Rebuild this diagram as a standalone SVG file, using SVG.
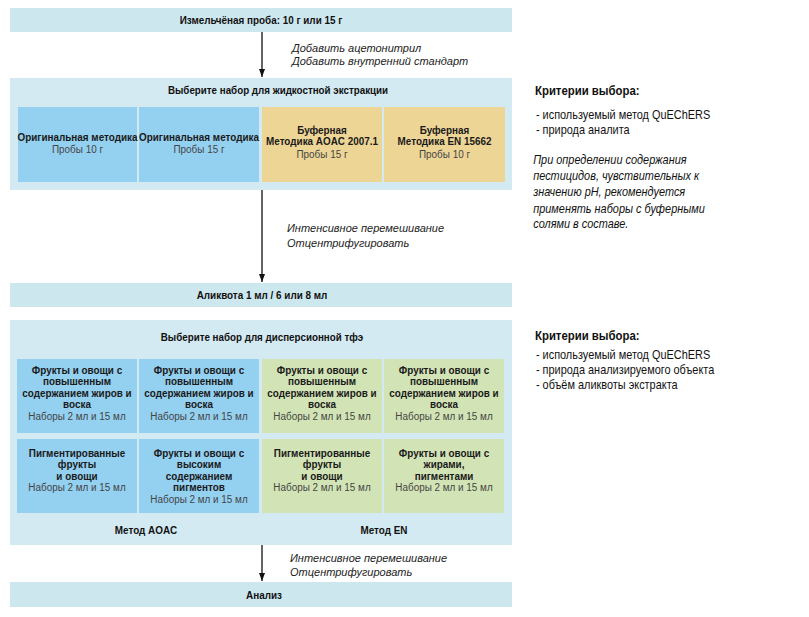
<svg xmlns="http://www.w3.org/2000/svg" width="809" height="617" viewBox="0 0 809 617">
<style>
.bar{fill:#cde7ef}
.panel{fill:#d3eaf2}
.blue{fill:#94d0f0}
.tan{fill:#edd596}
.green{fill:#d2e4b5}
text{font-family:"Liberation Sans",Arial,sans-serif;fill:#111}
.h{font-size:11px;font-weight:bold;text-anchor:middle}
.c{font-size:11px;font-weight:bold;text-anchor:middle;fill:#1a1a1a}
.s{font-size:11px;text-anchor:middle;fill:#444}
.i{font-size:11px;font-style:italic;fill:#222}
.k{font-size:12.5px;font-weight:bold}
.l{font-size:12px}
.p{font-size:12px;font-style:italic}
.arr{stroke:#111;stroke-width:1.3;fill:none;marker-end:url(#ah)}
</style>
<defs>
<marker id="ah" markerUnits="userSpaceOnUse" markerWidth="8" markerHeight="10" refX="8" refY="3" orient="auto">
<path d="M0,0 L8,3 L0,6 z" fill="#111"/>
</marker>
</defs>
<rect width="809" height="617" fill="#fff"/>

<g id="connectors">
<line class="arr" x1="262" y1="32" x2="262" y2="77"/>
<line class="arr" x1="262" y1="190" x2="262" y2="282"/>
<line class="arr" x1="262" y1="545" x2="262" y2="581"/>
<text class="i" x="292" y="52">Добавить ацетонитрил</text>
<text class="i" x="292" y="65">Добавить внутренний стандарт</text>
<text class="i" x="287" y="232">Интенсивное перемешивание</text>
<text class="i" x="287" y="247">Отцентрифугировать</text>
<text class="i" x="290" y="562">Интенсивное перемешивание</text>
<text class="i" x="290" y="576">Отцентрифугировать</text>
</g>

<g id="sample">
<rect class="bar" x="10" y="8" width="502" height="24"/>
<g transform="translate(261 0) scale(0.9 1)"><text class="h" y="24">Измельчёная проба: 10 г или 15 г</text></g>
</g>

<g id="extraction">
<rect class="panel" x="10" y="78" width="502" height="112"/>
<g transform="translate(278 0) scale(0.89 1)"><text class="h" y="94">Выберите набор для жидкостной экстракции</text></g>
<g id="ext1"><rect class="blue" x="18" y="107" width="119" height="75"/>
<g transform="translate(77.5 0) scale(0.9 1)"><text class="c" y="141">Оригинальная методика</text><text class="s" y="153">Пробы 10 г</text></g></g>
<g id="ext2"><rect class="blue" x="139" y="107" width="120" height="75"/>
<g transform="translate(199 0) scale(0.9 1)"><text class="c" y="141">Оригинальная методика</text><text class="s" y="153">Пробы 15 г</text></g></g>
<g id="ext3"><rect class="tan" x="262" y="107" width="120" height="75"/>
<g transform="translate(322 0) scale(0.9 1)"><text class="c" y="134">Буферная</text><text class="c" y="145">Методика AOAC 2007.1</text><text class="s" y="158">Пробы 15 г</text></g></g>
<g id="ext4"><rect class="tan" x="384" y="107" width="121" height="75"/>
<g transform="translate(444.5 0) scale(0.9 1)"><text class="c" y="134">Буферная</text><text class="c" y="145">Методика EN 15662</text><text class="s" y="158">Пробы 10 г</text></g></g>
</g>

<g id="aliquot">
<rect class="bar" x="10" y="283" width="502" height="24"/>
<g transform="translate(262 0) scale(0.9 1)"><text class="h" y="299">Аликвота 1 мл / 6 или 8 мл</text></g>
</g>

<g id="dspe">
<rect class="panel" x="10" y="320" width="502" height="225"/>
<g transform="translate(262 0) scale(0.89 1)"><text class="h" y="341">Выберите набор для дисперсионной тфэ</text></g>
<g id="d1"><rect class="blue" x="17" y="359" width="120" height="74"/>
<g transform="translate(77 0) scale(0.9 1)"><text class="c" y="374">Фрукты и овощи с</text><text class="c" y="385.5">повышенным</text><text class="c" y="397">содержанием жиров и</text><text class="c" y="408.5">воска</text><text class="s" y="420">Наборы 2 мл и 15 мл</text></g></g>
<g id="d2"><rect class="blue" x="139" y="359" width="120" height="74"/>
<g transform="translate(199 0) scale(0.9 1)"><text class="c" y="374">Фрукты и овощи с</text><text class="c" y="385.5">повышенным</text><text class="c" y="397">содержанием жиров и</text><text class="c" y="408.5">воска</text><text class="s" y="420">Наборы 2 мл и 15 мл</text></g></g>
<g id="d3"><rect class="green" x="262" y="359" width="120" height="74"/>
<g transform="translate(322 0) scale(0.9 1)"><text class="c" y="374">Фрукты и овощи с</text><text class="c" y="385.5">повышенным</text><text class="c" y="397">содержанием жиров и</text><text class="c" y="408.5">воска</text><text class="s" y="420">Наборы 2 мл и 15 мл</text></g></g>
<g id="d4"><rect class="green" x="384" y="359" width="120" height="74"/>
<g transform="translate(444 0) scale(0.9 1)"><text class="c" y="374">Фрукты и овощи с</text><text class="c" y="385.5">повышенным</text><text class="c" y="397">содержанием жиров и</text><text class="c" y="408.5">воска</text><text class="s" y="420">Наборы 2 мл и 15 мл</text></g></g>
<g id="d5"><rect class="blue" x="17" y="439" width="120" height="74"/>
<g transform="translate(77 0) scale(0.9 1)"><text class="c" y="457">Пигментированные</text><text class="c" y="468.5">фрукты</text><text class="c" y="480">и овощи</text><text class="s" y="491.5">Наборы 2 мл и 15 мл</text></g></g>
<g id="d6"><rect class="blue" x="139" y="439" width="120" height="74"/>
<g transform="translate(199 0) scale(0.9 1)"><text class="c" y="457">Фрукты и овощи с</text><text class="c" y="468.5">высоким</text><text class="c" y="480">содержанием</text><text class="c" y="491.5">пигментов</text><text class="s" y="503">Наборы 2 мл и 15 мл</text></g></g>
<g id="d7"><rect class="green" x="262" y="439" width="120" height="74"/>
<g transform="translate(322 0) scale(0.9 1)"><text class="c" y="457">Пигментированные</text><text class="c" y="468.5">фрукты</text><text class="c" y="480">и овощи</text><text class="s" y="491.5">Наборы 2 мл и 15 мл</text></g></g>
<g id="d8"><rect class="green" x="384" y="439" width="120" height="74"/>
<g transform="translate(444 0) scale(0.9 1)"><text class="c" y="457">Фрукты и овощи с</text><text class="c" y="468.5">жирами,</text><text class="c" y="480">пигментами</text><text class="s" y="491.5">Наборы 2 мл и 15 мл</text></g></g>
<g transform="translate(146 0) scale(0.9 1)"><text class="h" y="534">Метод AOAC</text></g>
<g transform="translate(384 0) scale(0.9 1)"><text class="h" y="534">Метод EN</text></g>
</g>

<g id="analysis">
<rect class="bar" x="10" y="582" width="502" height="25"/>
<g transform="translate(264 0) scale(0.9 1)"><text class="h" y="599">Анализ</text></g>
</g>

<g id="criteria1" transform="translate(535 0) scale(0.91 1)">
<text class="k" x="0" y="95">Критерии выбора:</text>
<text class="l" x="1" y="119">- используемый метод QuEChERS</text>
<text class="l" x="1" y="134">- природа аналита</text>
<text class="p" x="-2" y="164">При определении содержания</text>
<text class="p" x="-2" y="180">пестицидов, чувствительных к</text>
<text class="p" x="-2" y="196">значению pH, рекомендуется</text>
<text class="p" x="-2" y="213">применять наборы с буферными</text>
<text class="p" x="-2" y="228">солями в составе.</text>
</g>

<g id="criteria2" transform="translate(535 0) scale(0.91 1)">
<text class="k" x="0" y="340">Критерии выбора:</text>
<text class="l" x="1" y="359">- используемый метод QuEChERS</text>
<text class="l" x="1" y="374">- природа анализируемого объекта</text>
<text class="l" x="1" y="389">- объём аликвоты экстракта</text>
</g>
</svg>
